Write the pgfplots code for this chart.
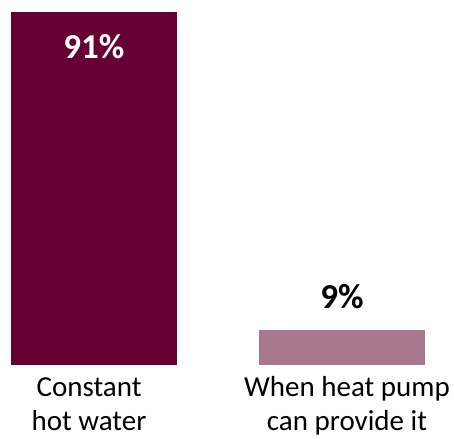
\documentclass[border=0pt]{standalone}
\usepackage{fontspec}
\setmainfont{Carlito}
\usepackage{pgfplots}
\pgfplotsset{compat=1.18}
\definecolor{barDark}{HTML}{660033}
\definecolor{barLight}{HTML}{A8788F}
\begin{document}
\begin{tikzpicture}
\begin{axis}[
  width=454pt, height=365pt, scale only axis,
  xmin=-0.379, xmax=1.4516,
  ymin=0, ymax=94.1,
  axis line style={draw=none},
  tick style={draw=none},
  ytick=\empty,
  xtick={-0.02,1.02},
  xticklabels={{Constant\\[5pt]hot water}, {When heat pump\\[5pt]can provide it}},
  xticklabel style={align=center, anchor=base, yshift=-61pt, inner sep=0pt,
    font=\fontsize{29}{29}\selectfont},
  ybar, bar width=166pt,
  /pgf/number format/assume math mode=true,
  nodes near coords={\pgfmathprintnumber{\pgfplotspointmeta}\%},
  clip=false,
]
\addplot[fill=barDark, draw=none, bar shift=0pt,
  every node near coord/.append style={anchor=base, yshift=-46pt,
    text=white, font=\fontsize{35}{41}\selectfont\bfseries}]
  coordinates {(0,91)};
\addplot[fill=barLight, draw=none, bar shift=0pt,
  every node near coord/.append style={anchor=base, yshift=22pt,
    text=black, font=\fontsize{35}{41}\selectfont\bfseries}]
  coordinates {(1,9)};
\coordinate (bl) at (rel axis cs:0,0);
\coordinate (tr) at (rel axis cs:1,1);
\end{axis}
\pgfresetboundingbox
\path ([yshift=-74pt]bl) rectangle (tr);
\end{tikzpicture}
\end{document}
